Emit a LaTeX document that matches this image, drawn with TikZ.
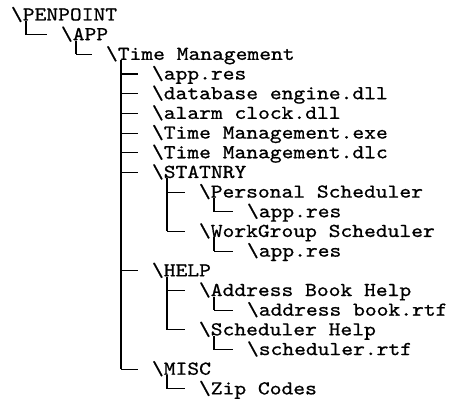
\documentclass[tikz,border=0pt]{standalone}
\usepackage{fontspec}
% Latin Modern Mono, widened and thickened towards a Courier look
\setmonofont{lmmono10-regular.otf}[FakeStretch=1.14, FakeBold=0.8]

% directory or file name as listed
\newcommand{\pathtext}[1]{\textbackslash #1}
% baseline of a listing row
\newcommand{\rowy}[1]{20.5+19.68*#1}

\begin{document}
\begin{tikzpicture}[x=1pt,y=-1pt,
  entry/.style={anchor=base west, inner sep=0pt, outer sep=0pt,
    font=\fontsize{19.7}{20}\selectfont\ttfamily},
  branch/.style={line width=1.1pt, draw=black}]
\useasboundingbox (0,0) rectangle (453,406);

% folder levels start at x = 11, 61, 106, 152, 199, 247
\node[entry] (penpoint) at (11,{\rowy{0}})  {\pathtext{PENPOINT}};
\node[entry] (app)      at (61,{\rowy{1}})  {\pathtext{APP}};
\node[entry] (tm)       at (106,{\rowy{2}}) {\pathtext{Time Management}};
\node[entry] (appres)   at (152,{\rowy{3}}) {\pathtext{app.res}};
\node[entry] (dbdll)    at (152,{\rowy{4}}) {\pathtext{database engine.dll}};
\node[entry] (alarm)    at (152,{\rowy{5}}) {\pathtext{alarm clock.dll}};
\node[entry] (tmexe)    at (152,{\rowy{6}}) {\pathtext{Time Management.exe}};
\node[entry] (tmdlc)    at (152,{\rowy{7}}) {\pathtext{Time Management.dlc}};
\node[entry] (statnry)  at (152,{\rowy{8}}) {\pathtext{STATNRY}};
\node[entry] (personal) at (199,{\rowy{9}}) {\pathtext{Personal Scheduler}};
\node[entry] (persres)  at (247,{\rowy{10}}) {\pathtext{app.res}};
\node[entry] (workgrp)  at (199,{\rowy{11}}) {\pathtext{WorkGroup Scheduler}};
\node[entry] (wgres)    at (247,{\rowy{12}}) {\pathtext{app.res}};
\node[entry] (help)     at (152,{\rowy{13}}) {\pathtext{HELP}};
\node[entry] (abhelp)   at (199,{\rowy{14}}) {\pathtext{Address Book Help}};
\node[entry] (abrtf)    at (247,{\rowy{15}}) {\pathtext{address book.rtf}};
\node[entry] (schhelp)  at (199,{\rowy{16}}) {\pathtext{Scheduler Help}};
\node[entry] (schrtf)   at (247,{\rowy{17}}) {\pathtext{scheduler.rtf}};
\node[entry] (misc)     at (152,{\rowy{18}}) {\pathtext{MISC}};
\node[entry] (zip)      at (199,{\rowy{19}}) {\pathtext{Zip Codes}};

% for every entry: where its own trunk starts (-v) and where its branch ends (-b)
\foreach \n in {penpoint,app,tm,appres,dbdll,alarm,tmexe,tmdlc,statnry,
    personal,persres,workgrp,wgres,help,abhelp,abrtf,schhelp,schrtf,misc,zip}{
  \coordinate (\n-v) at ([xshift=15pt,yshift=-0.5pt]\n.base west);
  \coordinate (\n-b) at ([xshift=-14pt,yshift=5.5pt]\n.base west);
}

% trunks: parent down to its last entry
\foreach \p/\l in {penpoint/app, app/tm, tm/misc, statnry/workgrp,
    personal/persres, workgrp/wgres, help/schhelp, abhelp/abrtf,
    schhelp/schrtf, misc/zip}
  {\draw[branch] (\p-v) -- (\p-v |- \l-b);}

% branches: trunk across to each entry
\foreach \p/\c in {penpoint/app, app/tm,
    tm/appres, tm/dbdll, tm/alarm, tm/tmexe, tm/tmdlc, tm/statnry, tm/help, tm/misc,
    statnry/personal, statnry/workgrp, personal/persres, workgrp/wgres,
    help/abhelp, help/schhelp, abhelp/abrtf, schhelp/schrtf, misc/zip}
  {\draw[branch] (\p-v |- \c-b) -- (\c-b);}
\end{tikzpicture}
\end{document}
